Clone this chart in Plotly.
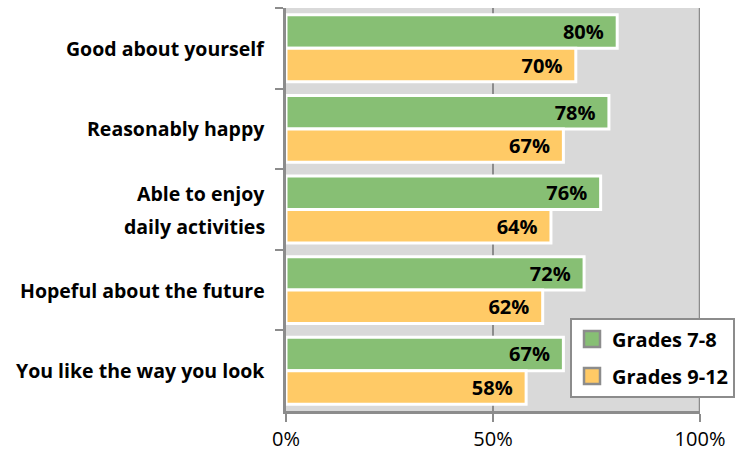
import plotly.graph_objects as go

categories = ["Good about yourself", "Reasonably happy", "Able to enjoy daily activities",
              "Hopeful about the future", "You like the way you look"]
category_lines = [["Good about yourself"], ["Reasonably happy"], ["Able to enjoy", "daily activities"],
                  ["Hopeful about the future"], ["You like the way you look"]]
grades_7_8 = [80, 78, 76, 72, 67]
grades_9_12 = [70, 67, 64, 62, 58]
series_names = ["Grades 7-8", "Grades 9-12"]
x_ticks = [0, 50, 100]
x_tick_labels = ["0%", "50%", "100%"]

GREEN = "#87bf74"
ORANGE = "#ffca66"
GRAY = "#8c8c8c"
FONT = "Open Sans"

fig = go.Figure()
for i, (name, vals, col) in enumerate([(series_names[0], grades_7_8, GREEN),
                                       (series_names[1], grades_9_12, ORANGE)]):
    fig.add_trace(go.Bar(
        y=categories, x=vals, orientation="h", name=name,
        marker=dict(color=col, line=dict(color="#ffffff", width=3)),
        text=[f"{v}%\u00a0\u00a0" for v in vals], textposition="inside", insidetextanchor="end",
        textfont=dict(family=FONT, size=20, color="#000000", weight="bold"),
        constraintext="none", cliponaxis=False, showlegend=False,
    ))
    fig.add_trace(go.Scatter(
        x=[None], y=[None], mode="markers", name=name, legendgroup=f"g{i}",
        marker=dict(symbol="square", size=16, color=col, line=dict(color=GRAY, width=2.5)),
        showlegend=True,
    ))

fig.add_shape(type="line", xref="x", yref="paper", x0=100, x1=100, y0=0, y1=1,
              line=dict(color=GRAY, width=2.5), layer="below")

for cat, lines in zip(categories, category_lines):
    n = len(lines)
    for j, ln in enumerate(lines):
        shift = (n - 1) / 2 * 33 - j * 33
        fig.add_annotation(
            xref="paper", x=0, yref="y", y=cat, text=ln, showarrow=False,
            xanchor="right", yanchor="middle", xshift=-19, yshift=shift,
            font=dict(family=FONT, size=19.5, color="#000000", weight="bold"),
        )

fig.update_layout(
    width=743, height=460,
    margin=dict(l=286, r=40, t=8, b=43),
    paper_bgcolor="#ffffff", plot_bgcolor="#d9d9d9",
    barmode="group", bargap=0.17, bargroupgap=0,
    font=dict(family=FONT, color="#000000"),
    legend=dict(x=0.686, y=0.232, xanchor="left", yanchor="top",
                bgcolor="#ffffff", bordercolor=GRAY, borderwidth=2,
                font=dict(family=FONT, size=20, weight="bold"),
                itemsizing="trace", tracegroupgap=8),
    xaxis=dict(range=[0, 100], tickvals=x_ticks, ticktext=x_tick_labels,
               showgrid=True, gridcolor=GRAY, gridwidth=1.5,
               showline=True, linecolor=GRAY, linewidth=3,
               ticks="outside", ticklen=8, tickwidth=2, tickcolor=GRAY,
               tickfont=dict(family=FONT, size=20), zeroline=False, fixedrange=True),
    yaxis=dict(autorange="reversed", showline=True, linecolor=GRAY, linewidth=3,
               ticks="outside", ticklen=8, tickwidth=2, tickcolor=GRAY, tickson="boundaries",
               showticklabels=False, showgrid=False),
)

fig.write_html("out.html")
